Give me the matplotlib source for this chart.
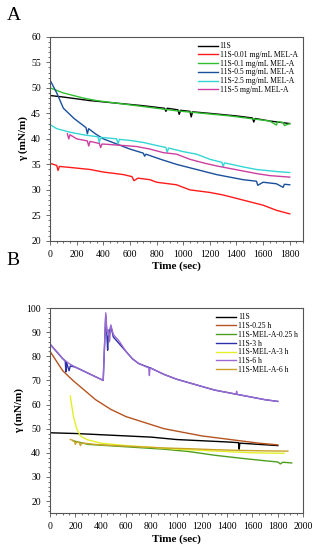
import matplotlib.pyplot as plt

plt.rcParams['font.family'] = ['Liberation Serif', 'DejaVu Serif']

# --- Panel A data (time in sec, tension in mN/m) ---
a_11s_t = [0, 100, 300, 500, 700, 860, 870, 880, 960, 970, 980, 1050, 1060, 1070, 1200, 1400, 1520, 1530, 1540, 1650, 1800]
a_11s_y = [48.5, 48.2, 47.5, 47.0, 46.5, 46.0, 45.4, 46.0, 45.7, 44.8, 45.6, 45.4, 44.3, 45.3, 45.0, 44.5, 44.1, 43.3, 44.0, 43.5, 43.0]

a_001_t = [0, 50, 60, 70, 150, 300, 400, 550, 615, 630, 660, 750, 800, 950, 1050, 1200, 1300, 1450, 1600, 1700, 1800]
a_001_y = [35.2, 34.8, 33.8, 34.6, 34.4, 34.0, 33.5, 33.0, 32.6, 31.8, 32.3, 32.0, 31.5, 31.0, 30.0, 29.5, 29.0, 28.0, 27.0, 26.0, 25.3]

a_01_t = [0, 100, 250, 350, 500, 650, 800, 950, 1150, 1350, 1500, 1650, 1700, 1710, 1750, 1760, 1800]
a_01_y = [50.0, 49.0, 48.0, 47.5, 47.0, 46.5, 46.0, 45.5, 45.0, 44.5, 44.0, 43.5, 42.7, 43.4, 43.2, 42.6, 43.0]

a_05_t = [0, 50, 100, 180, 270, 280, 290, 340, 400, 500, 600, 700, 710, 720, 830, 950, 1100, 1250, 1350, 1450, 1550, 1560, 1600, 1700, 1750, 1760, 1800]
a_05_y = [51.5, 49.0, 46.0, 44.0, 42.2, 41.0, 42.0, 41.0, 40.0, 39.0, 38.0, 37.2, 36.6, 37.0, 36.0, 35.0, 34.0, 33.0, 32.5, 32.0, 31.7, 30.9, 31.5, 31.2, 30.5, 31.1, 31.0]

a_25_t = [0, 50, 150, 250, 360, 370, 380, 500, 510, 520, 600, 700, 800, 870, 880, 890, 1000, 1100, 1200, 1290, 1300, 1310, 1450, 1550, 1700, 1800]
a_25_y = [42.8, 42.0, 41.3, 40.8, 40.4, 39.3, 40.3, 40.0, 39.0, 39.9, 39.7, 39.3, 38.7, 38.3, 37.4, 38.2, 37.5, 37.0, 36.0, 35.4, 34.6, 35.3, 34.5, 34.0, 33.6, 33.4]

a_5_t = [130, 140, 150, 200, 280, 290, 300, 370, 380, 390, 550, 650, 750, 850, 950, 1050, 1150, 1250, 1350, 1450, 1550, 1650, 1800]
a_5_y = [41.0, 40.0, 40.8, 40.0, 39.6, 38.6, 39.5, 39.1, 38.3, 39.0, 38.7, 38.5, 38.0, 37.3, 37.0, 36.0, 35.3, 34.7, 34.2, 33.7, 33.2, 32.8, 32.5]

a_labels = ['11S', '11S-0.01 mg/mL MEL-A', '11S-0.1 mg/mL MEL-A', '11S-0.5 mg/mL MEL-A',
            '11S-2.5 mg/mL MEL-A', '11S-5 mg/mL MEL-A']
a_colors = ['#000000', '#ff1a1a', '#2fbf2f', '#1a4f9c', '#33d6d6', '#cc3fa0']

# --- Panel B data ---
b_11s_t = [0, 200, 400, 600, 800, 1000, 1200, 1400, 1490, 1495, 1500, 1650, 1800]
b_11s_y = [48.3, 48.0, 47.5, 47.0, 46.5, 45.5, 45.0, 44.5, 44.2, 41.5, 44.0, 43.5, 43.0]

b_025_t = [0, 50, 100, 180, 270, 360, 480, 600, 750, 900, 1050, 1200, 1350, 1500, 1650, 1800]
b_025_y = [82.0, 78.0, 74.0, 70.0, 66.0, 62.0, 58.0, 55.0, 52.5, 50.0, 48.5, 47.0, 46.0, 45.0, 44.0, 43.3]

b_mel025_t = [180, 300, 600, 900, 1100, 1300, 1500, 1700, 1800, 1820, 1840, 1910]
b_mel025_y = [45.0, 43.5, 42.5, 41.5, 40.5, 39.0, 37.8, 36.7, 36.2, 35.4, 36.1, 35.8]

b_3h_t = [0, 50, 100, 120, 125, 130, 150, 160, 200, 300, 400, 420, 440, 450, 455, 460, 480, 500, 550, 600, 650, 700, 800, 900, 1000, 1100, 1200, 1300, 1400, 1500, 1600, 1700, 1800]
b_3h_y = [85.0, 82.0, 79.0, 78.0, 73.5, 77.5, 74.0, 76.0, 75.5, 73.0, 70.5, 70.0, 97.0, 88.0, 82.5, 88.0, 92.5, 88.0, 85.0, 82.0, 79.0, 77.0, 75.0, 72.5, 70.5, 69.0, 67.5, 66.0, 65.0, 64.0, 63.0, 62.0, 61.3]

b_mel3_t = [160, 170, 185, 210, 240, 290, 400, 600, 800, 1000, 1200, 1400, 1600, 1850]
b_mel3_y = [63.5, 60.0, 55.0, 50.0, 47.0, 45.5, 44.0, 43.0, 42.3, 41.5, 41.0, 40.5, 40.0, 39.8]

b_6h_t = [0, 50, 100, 150, 200, 300, 400, 420, 440, 450, 460, 470, 480, 500, 550, 600, 650, 700, 780, 785, 790, 800, 900, 1000, 1100, 1200, 1300, 1400, 1470, 1475, 1480, 1500, 1600, 1700, 1800]
b_6h_y = [85.0, 82.0, 79.0, 77.0, 75.5, 73.0, 70.5, 70.0, 98.0, 90.0, 91.0, 86.0, 93.0, 89.0, 86.0, 82.0, 79.0, 77.0, 75.2, 72.0, 75.0, 75.0, 72.5, 70.5, 69.0, 67.5, 66.0, 65.0, 64.3, 65.5, 64.2, 64.0, 63.0, 62.0, 61.3]

b_mel6_t = [160, 190, 200, 210, 230, 240, 250, 350, 500, 700, 900, 1100, 1300, 1500, 1700, 1880]
b_mel6_y = [45.5, 45.0, 43.5, 44.6, 44.3, 43.0, 44.1, 43.5, 43.0, 42.5, 42.0, 41.7, 41.3, 41.0, 40.8, 40.7]

b_labels = ['11S', '11S-0.25 h', '11S-MEL-A-0.25 h', '11S-3 h', '11S-MEL-A-3 h', '11S-6 h', '11S-MEL-A-6 h']
b_colors = ['#000000', '#b5541f', '#4d9e1f', '#2b2fa8', '#e3f026', '#9b6ad0', '#c9a227']

fig = plt.figure(figsize=(3.19, 5.5), dpi=100)


def style_axes(ax):
    for s in ax.spines.values():
        s.set_color('#555555')
        s.set_linewidth(0.8)
    ax.tick_params(which='both', direction='out', labelsize=7, width=0.6, color='#555555')
    ax.tick_params(which='major', length=3)
    ax.tick_params(which='minor', length=1.5)
    ax.minorticks_on()
    ax.set_xlabel('Time (sec)', fontsize=8, fontweight='bold', labelpad=2)
    ax.set_ylabel('γ (mN/m)', fontsize=8, fontweight='bold', labelpad=2)


# Panel A
axA = fig.add_axes([0.157, 0.562, 0.793, 0.371])
seriesA = [(a_11s_t, a_11s_y), (a_001_t, a_001_y), (a_01_t, a_01_y),
           (a_05_t, a_05_y), (a_25_t, a_25_y), (a_5_t, a_5_y)]
for (t, y), lab, c in zip(seriesA, a_labels, a_colors):
    axA.plot(t, y, color=c, lw=1.0, label=lab)
axA.set_xlim(0, 1900)
axA.set_ylim(20, 60)
axA.set_xticks(range(0, 1801, 200))
axA.set_yticks(range(20, 61, 5))
style_axes(axA)
axA.legend(loc='upper right', frameon=False, fontsize=5.5, handlelength=2.6,
           handletextpad=0.2, labelspacing=0.1, borderaxespad=0.3)
fig.text(0.02, 0.972, 'A', fontsize=14, va='center', ha='left')

# Panel B
axB = fig.add_axes([0.157, 0.067, 0.793, 0.373])
seriesB = [(b_11s_t, b_11s_y), (b_025_t, b_025_y), (b_mel025_t, b_mel025_y),
           (b_3h_t, b_3h_y), (b_mel3_t, b_mel3_y), (b_6h_t, b_6h_y), (b_mel6_t, b_mel6_y)]
for (t, y), lab, c in zip(seriesB, b_labels, b_colors):
    axB.plot(t, y, color=c, lw=1.0, label=lab)
axB.set_xlim(0, 2000)
axB.set_ylim(15, 100)
axB.set_xticks(range(0, 2001, 200))
axB.set_yticks(range(20, 101, 10))
style_axes(axB)
axB.legend(loc='upper right', frameon=False, fontsize=5.5, handlelength=2.6,
           handletextpad=0.2, labelspacing=0.1, borderaxespad=0.3)
fig.text(0.02, 0.527, 'B', fontsize=14, va='center', ha='left')

fig.savefig('out.png', dpi=100)
